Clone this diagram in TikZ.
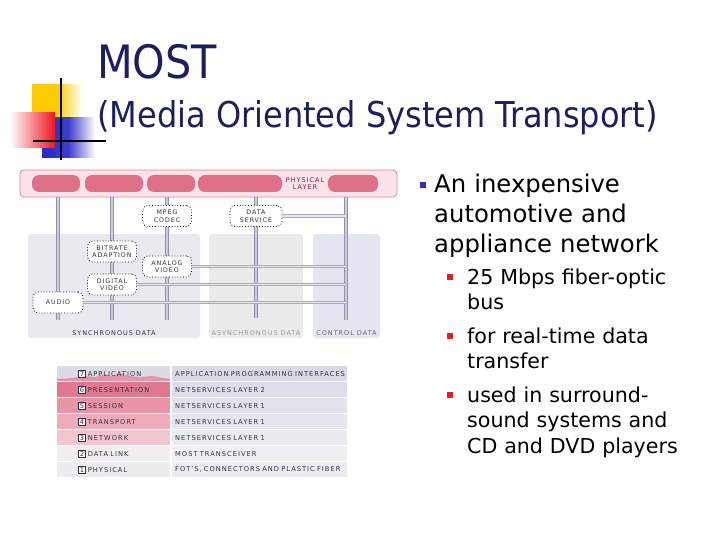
\documentclass[tikz,border=0pt]{standalone}
\usepackage{fontspec}
\setmainfont{DejaVu Sans Condensed}
\newfontfamily\bodyfont{DejaVu Sans}
\newfontfamily\pixfont[LetterSpace=15]{DejaVu Sans}
\usetikzlibrary{positioning}

\definecolor{titleblue}{RGB}{30,30,95}
\definecolor{bulletblue}{RGB}{50,50,185}
\definecolor{bulletred}{RGB}{225,30,30}
\definecolor{pipebg}{RGB}{250,228,233}
\definecolor{pipeedge}{RGB}{226,132,152}
\definecolor{segpink}{RGB}{224,112,136}
\definecolor{railedge}{RGB}{145,145,168}
\definecolor{railmid}{RGB}{205,205,220}
\definecolor{baredge}{RGB}{172,172,188}
\definecolor{barmid}{RGB}{228,228,234}
\definecolor{syncbg}{RGB}{232,234,240}
\definecolor{asyncbg}{RGB}{235,235,235}
\definecolor{ctrlbg}{RGB}{228,231,240}
\definecolor{labelgray}{RGB}{50,50,66}
\definecolor{physred}{RGB}{150,30,70}
\definecolor{logoyellow}{RGB}{255,204,0}
\definecolor{logoblue}{RGB}{40,40,200}
\definecolor{logored}{RGB}{240,20,30}
% Tabellenfarben
\definecolor{mountain}{RGB}{228,150,166}
\definecolor{osil7}{RGB}{218,219,228}
\definecolor{osil6}{RGB}{224,120,144}
\definecolor{osil5}{RGB}{232,148,166}
\definecolor{osil4}{RGB}{238,172,186}
\definecolor{osil3}{RGB}{242,198,208}
\definecolor{osil2}{RGB}{241,237,241}
\definecolor{osil1}{RGB}{236,236,241}
\definecolor{osir7}{RGB}{216,219,229}
\definecolor{osir6}{RGB}{221,223,232}
\definecolor{osir5}{RGB}{225,227,235}
\definecolor{osir4}{RGB}{229,231,238}
\definecolor{osir3}{RGB}{234,235,240}
\definecolor{osir2}{RGB}{240,240,244}
\definecolor{osir1}{RGB}{236,236,241}

\newcommand{\osinum}[1]{{\setlength{\fboxsep}{0.8pt}\setlength{\fboxrule}{0.8pt}\fcolorbox{labelgray}{white}{\makebox[4.2pt]{#1}}}}

\begin{document}
\begin{tikzpicture}[x=1pt, y=-1pt,
  seg/.style={fill=segpink, rounded corners=7pt, minimum height=17pt, inner sep=0pt},
  panel/.style={rounded corners=3pt, minimum height=104pt, inner sep=0pt},
  plabel/.style={font=\pixfont\fontsize{6.5}{7}\selectfont, text=labelgray, inner sep=2pt},
  dbox/.style={draw=black, dotted, thick, rounded corners=5pt, fill=white, align=center, minimum width=49pt, minimum height=21pt, inner sep=1pt, font=\pixfont\fontsize{6.3}{7.5}\selectfont, text=labelgray},
  rail/.style={draw=railedge, line width=1pt, double=railmid, double distance=1.8pt},
  bar/.style={draw=baredge, line width=0.9pt, double=barmid, double distance=1.8pt},
  osil/.style={anchor=north west, minimum width=113pt, text width=113pt, minimum height=15pt, inner sep=0pt, align=left, font=\pixfont\fontsize{6.7}{7}\selectfont, text=labelgray},
  osir/.style={osil, minimum width=175pt, text width=175pt},
  bulletsq/.style={minimum size=6.5pt, inner sep=0pt},
  mainitem/.style={anchor=base west, text width=260pt, align=left, inner sep=0pt, font=\bodyfont\fontsize{24.3}{30}\selectfont},
  subitem/.style={anchor=base west, text width=240pt, align=left, inner sep=0pt, font=\bodyfont\fontsize{20.6}{25.5}\selectfont}
]
\useasboundingbox (0,0) rectangle (720,540);

% Logo
\fill[left color=logoyellow, right color=white, middle color=logoyellow] (32,85) rectangle (82,120);
\fill[left color=logoblue, right color=white, middle color=logoblue!90] (42,118) rectangle (95,158);
\fill[left color=white, right color=logored] (10,113) rectangle (55,148);
\draw[line width=2.5pt] (61,78) -- (61,160);
\draw[line width=2.5pt] (33,141) -- (106,141);

% Titel
\node[anchor=base west, inner sep=0pt, text=titleblue, font=\fontsize{46}{50}\selectfont] (title) at (97,79) {MOST};
\node[anchor=base west, inner sep=0pt, text=titleblue, font=\fontsize{35.6}{40}\selectfont] (subtitle) at (97,128) {(Media Oriented System Transport)};

% Datenbereiche
\node[panel, fill=syncbg, minimum width=172pt] (sync) at (114,286) {};
\node[panel, fill=asyncbg, minimum width=94pt] (async) at (256,286) {};
\node[panel, fill=ctrlbg, minimum width=67pt] (ctrl) at (346.5,286) {};
\node[plabel, above=0pt of sync.south] {SYNCHRONOUS DATA};
\node[plabel, above=0pt of async.south, text=gray!80] {ASYNCHRONOUS DATA};
\node[plabel, above=0pt of ctrl.south, text=ctrlbg!45!black] {CONTROL DATA};

% Physical layer
\node[fill=pipebg, draw=pipeedge, line width=0.8pt, rounded corners=4pt, minimum width=377pt, minimum height=27pt, inner sep=0pt] (pipe) at (208.5,183.5) {};
\node[seg, minimum width=48pt] (s1) at (56,183.5) {};
\node[seg, minimum width=58pt] (s2) at (114,183.5) {};
\node[seg, minimum width=48pt] (s3) at (171,183.5) {};
\node[seg, minimum width=84pt] (s4) at (240,183.5) {};
\node[seg, minimum width=50pt] (s5) at (353,183.5) {};
\node[align=center, font=\pixfont\fontsize{6.5}{7.5}\selectfont, text=physred, inner sep=0pt] (phys) at (305,183.5) {PHYSICAL\\LAYER};

% Leitungen
\coordinate (audend) at (58,320);
\coordinate (digend) at (112,320);
\coordinate (anaend) at (167,320);
\coordinate (datend) at (256,318);
\coordinate (ctlend) at (346,320);
\draw[rail] (audend |- pipe.south) -- (audend);
\draw[rail] (digend |- pipe.south) -- (digend);
\draw[rail] (anaend |- pipe.south) -- (anaend);
\draw[rail] (datend |- pipe.south) -- (datend);
\draw[rail] (ctlend |- pipe.south) -- (ctlend);

% Funktionsbloecke
\node[dbox] (mpeg) at (167,216) {MPEG\\CODEC};
\node[dbox, minimum width=52pt] (dataserv) at (256,216) {DATA\\SERVICE};
\node[dbox] (bitrate) at (112,251.5) {BITRATE\\ADAPTION};
\node[dbox] (analog) at (167,266.5) {ANALOG\\VIDEO};
\node[dbox] (digital) at (112,284.5) {DIGITAL\\VIDEO};
\node[dbox, minimum width=50pt] (audio) at (58,302.5) {AUDIO};

\draw[bar] (dataserv.east) -- (dataserv.east -| ctlend);
\draw[bar] (analog.east) -- (analog.east -| ctlend);
\draw[bar] (digital.east) -- (digital.east -| ctlend);
\draw[bar] (audio.east) -- (audio.east -| ctlend);

% OSI-Tabelle
\node[osil, fill=osil7] (l7) at (57,366) {};
\fill[mountain] (57,381) -- (57,379) -- (72,378) -- (84,376) -- (95,377) -- (104,374) -- (112,376) -- (120,373) -- (128,376) -- (140,377) -- (152,376) -- (170,379) -- (170,381) -- cycle;
\node[osil] at (57,366) {\hspace*{21pt}\osinum{7}~APPLICATION};
\node[osil, fill=osil6] (l6) at (57,382) {\hspace*{21pt}\osinum{6}~PRESENTATION};
\node[osil, fill=osil5] (l5) at (57,398) {\hspace*{21pt}\osinum{5}~SESSION};
\node[osil, fill=osil4] (l4) at (57,414) {\hspace*{21pt}\osinum{4}~TRANSPORT};
\node[osil, fill=osil3] (l3) at (57,430) {\hspace*{21pt}\osinum{3}~NETWORK};
\node[osil, fill=osil2] (l2) at (57,446) {\hspace*{21pt}\osinum{2}~DATA LINK};
\node[osil, fill=osil1] (l1) at (57,462) {\hspace*{21pt}\osinum{1}~PHYSICAL};

\node[osir, fill=osir7] (r7) at (172,366) {\hspace*{3pt}APPLICATION PROGRAMMING INTERFACES};
\node[osir, fill=osir6] (r6) at (172,382) {\hspace*{3pt}NETSERVICES LAYER 2};
\node[osir, fill=osir5] (r5) at (172,398) {\hspace*{3pt}NETSERVICES LAYER 1};
\node[osir, fill=osir4] (r4) at (172,414) {\hspace*{3pt}NETSERVICES LAYER 1};
\node[osir, fill=osir3] (r3) at (172,430) {\hspace*{3pt}NETSERVICES LAYER 1};
\node[osir, fill=osir2] (r2) at (172,446) {\hspace*{3pt}MOST TRANSCEIVER};
\node[osir, fill=osir1] (r1) at (172,462) {\hspace*{3pt}FOT'S, CONNECTORS AND PLASTIC FIBER};

% Aufzaehlung
\node[bulletsq, fill=bulletblue] (b0) at (423,185) {};
\node[mainitem] (t0) at (434,193) {An inexpensive\\automotive and\\appliance network};
\node[bulletsq, minimum size=6pt, fill=bulletred] (b1) at (450,277) {};
\node[subitem] (t1) at (467,284) {25 Mbps fiber-optic\\bus};
\node[bulletsq, minimum size=6pt, fill=bulletred] (b2) at (450,336) {};
\node[subitem] (t2) at (467,343) {for real-time data\\transfer};
\node[bulletsq, minimum size=6pt, fill=bulletred] (b3) at (450,395) {};
\node[subitem] (t3) at (467,402) {used in surround-\\sound systems and\\CD and DVD players};
\end{tikzpicture}
\end{document}
